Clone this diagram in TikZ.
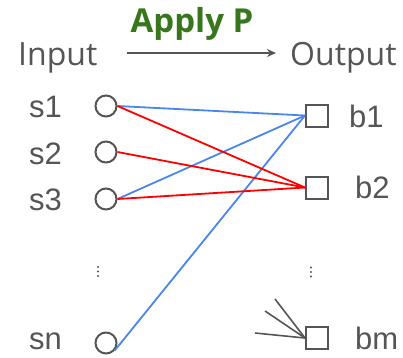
\documentclass[tikz,border=0pt]{standalone}
\usepackage{fontspec}
\setmainfont{Open Sans}
\newfontfamily\labelfont{Liberation Sans}
\usetikzlibrary{arrows.meta}
\definecolor{ink}{HTML}{555555}
\definecolor{headgreen}{HTML}{38761D}
\definecolor{linkblue}{HTML}{4A86E8}
\definecolor{linkred}{HTML}{FF0000}
\tikzset{
  lbl/.style={anchor=base west, inner sep=0pt, text=ink, font=\labelfont\fontsize{31}{31}\selectfont},
  head/.style={anchor=base west, inner sep=0pt, text=ink, font=\fontsize{32}{32}\selectfont},
  src/.style={circle, draw=ink, line width=2pt, minimum size=21pt, inner sep=0pt},
  dst/.style={rectangle, draw=ink, line width=2pt, minimum size=22pt, inner sep=0pt},
  bluelink/.style={draw=linkblue, line width=1.8pt},
  redlink/.style={draw=linkred, line width=1.8pt},
  fanin/.style={draw=ink, line width=1.6pt},
  vdot/.style={circle, fill=ink, inner sep=0pt, minimum size=2.4pt},
}
\begin{document}
\begin{tikzpicture}[x=1pt, y=-1pt]
\useasboundingbox (0,0) rectangle (403,357);

% header
\node[head] (input) at (18,65) {Input};
\node[head] (output) at (290,65) {Output};
\node[anchor=base, inner sep=0pt, text=headgreen, font=\fontsize{33}{33}\selectfont\bfseries] (apply) at (192,32) {Apply P};
\coordinate (arrS) at (127,53);
\coordinate (arrE) at (276,53);
\draw[draw=ink, line width=1.5pt, -{Stealth[length=9pt,width=8pt]}] (arrS) -- (arrE);

% inputs
\node[lbl] (ls1) at (29,117) {s1};
\node[lbl] (ls2) at (29,164) {s2};
\node[lbl] (ls3) at (29,210) {s3};
\node[lbl] (lsn) at (29,349) {sn};
\node[src] (s1) at (106,106) {};
\node[src] (s2) at (106,152) {};
\node[src] (s3) at (106,199) {};
\node[src] (sn) at (106,343) {};

% outputs
\node[dst] (b1) at (317,115.5) {};
\node[dst] (b2) at (317,187.5) {};
\node[dst] (bm) at (317,338) {};
\node[lbl] (lb1) at (349,127) {b1};
\node[lbl] (lb2) at (355,198) {b2};
\node[lbl] (lbm) at (355,349) {bm};

% vertical ellipses
\node[vdot] (dl1) at (98,267) {};
\node[vdot] (dl2) at (98,271.5) {};
\node[vdot] (dl3) at (98,276) {};
\node[vdot] (dr1) at (311,267.5) {};
\node[vdot] (dr2) at (311,272) {};
\node[vdot] (dr3) at (311,276.5) {};

% connections
\draw[bluelink] (s1.east) -- (b1.west);
\draw[bluelink] (s3.east) -- (b1.west);
\draw[bluelink] (sn.-40) -- (b1.west);
\draw[redlink] (s1.east) -- (b2.west);
\draw[redlink] (s2.east) -- (b2.west);
\draw[redlink] (s3.east) -- (b2.west);

% incoming edges at bm
\coordinate (f1) at (275,299);
\coordinate (f2) at (265,311);
\coordinate (f3) at (255,333);
\draw[fanin] (f1) -- (bm.west);
\draw[fanin] (f2) -- (bm.west);
\draw[fanin] (f3) -- (bm.west);
\end{tikzpicture}
\end{document}
